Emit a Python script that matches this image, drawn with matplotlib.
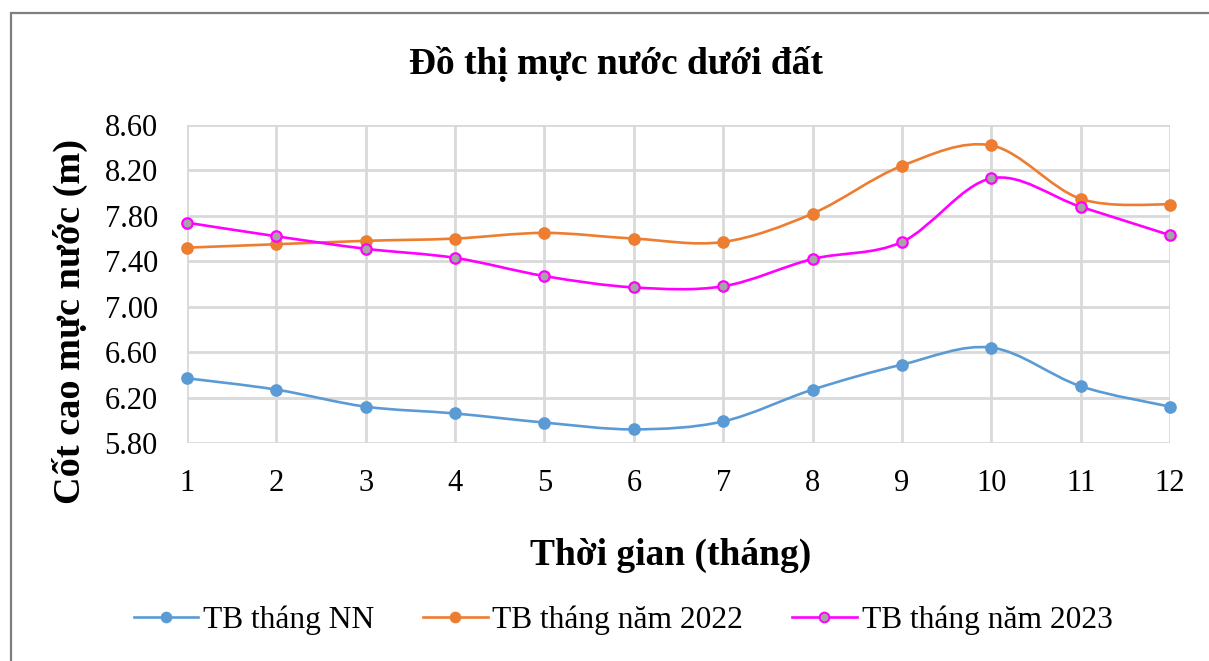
import matplotlib
matplotlib.use("Agg")
import matplotlib.pyplot as plt
from matplotlib.path import Path
from matplotlib.patches import PathPatch, Rectangle
from matplotlib.lines import Line2D
import numpy as np

months = [1, 2, 3, 4, 5, 6, 7, 8, 9, 10, 11, 12]
tb_nn = [6.37, 6.27, 6.12, 6.06, 5.98, 5.92, 5.99, 6.27, 6.49, 6.64, 6.30, 6.12]
tb_2022 = [7.52, 7.55, 7.58, 7.60, 7.65, 7.60, 7.57, 7.82, 8.24, 8.42, 7.95, 7.90]
tb_2023 = [7.74, 7.62, 7.51, 7.43, 7.27, 7.17, 7.18, 7.42, 7.57, 8.13, 7.88, 7.63]
series_names = ["TB tháng NN", "TB tháng năm 2022", "TB tháng năm 2023"]
yticks = [5.80, 6.20, 6.60, 7.00, 7.40, 7.80, 8.20, 8.60]

title = "Đồ thị mực nước dưới đất"
xlabel = "Thời gian (tháng)"
ylabel = "Cốt cao mực nước (m)"

plt.rcParams['font.family'] = ['Liberation Serif', 'DejaVu Serif']

W, H = 1209, 661
fig = plt.figure(figsize=(W / 100, H / 100), dpi=100)

# outer chart border
fig.patches.append(Rectangle((11 / W, -0.1), 1.2, (H - 13) / H + 0.1, transform=fig.transFigure,
                             fill=False, edgecolor='#7f7f7f', linewidth=1.6))

ax = fig.add_axes([187 / W, 1 - 443 / H, (1170 - 187) / W, (443 - 125) / H])
ax.set_xlim(1, 12)
ax.set_ylim(5.8, 8.6)
ax.set_xticks(months)
ax.set_yticks(yticks)
ax.set_yticklabels([f"{v:.2f}" for v in yticks])
ax.grid(True, color='#d9d9d9', linewidth=2)
ax.set_axisbelow(True)
for s in ax.spines.values():
    s.set_visible(False)
ax.tick_params(length=0, labelsize=22, colors='black')
ax.tick_params(axis='x', pad=19)
ax.tick_params(axis='y', pad=21)


def smooth_path(x, y):
    x = np.asarray(x, float)
    y = np.asarray(y, float)
    n = len(x)
    verts = [(x[0], y[0])]
    codes = [Path.MOVETO]
    for i in range(n - 1):
        p0 = np.array([x[max(i - 1, 0)], y[max(i - 1, 0)]])
        p1 = np.array([x[i], y[i]])
        p2 = np.array([x[i + 1], y[i + 1]])
        p3 = np.array([x[min(i + 2, n - 1)], y[min(i + 2, n - 1)]])
        c1 = p1 + (p2 - p0) / 6
        c2 = p2 - (p3 - p1) / 6
        verts += [tuple(c1), tuple(c2), tuple(p2)]
        codes += [Path.CURVE4] * 3
    return Path(verts, codes)


styles = [
    (tb_nn, '#5B9BD5', '#5B9BD5'),
    (tb_2022, '#ED7D31', '#ED7D31'),
    (tb_2023, '#FF00FF', '#A5A5A5'),
]
handles = []
for (vals, col, face), name in zip(styles, series_names):
    ax.add_patch(PathPatch(smooth_path(months, vals), facecolor='none', edgecolor=col,
                           linewidth=1.9, clip_on=False, zorder=3))
    ax.plot(months, vals, linestyle='none', marker='o', markersize=7.5,
            markerfacecolor=face, markeredgecolor=col, markeredgewidth=1.6,
            clip_on=False, zorder=4)
    handles.append(Line2D([], [], color=col, linewidth=1.9, marker='o', markersize=7,
                          markerfacecolor=face, markeredgecolor=col, markeredgewidth=1.4))

fig.text(616 / W, 1 - 64 / H, title, ha='center', va='center', fontsize=27, fontweight='bold')
fig.text(671 / W, 1 - 555 / H, xlabel, ha='center', va='center', fontsize=27, fontweight='bold')
fig.text(70 / W, 1 - 321 / H, ylabel, ha='center', va='center', rotation=90, fontsize=27.5,
         fontweight='bold')

fig.legend(handles, series_names, loc='center', bbox_to_anchor=(623 / W, 1 - 620 / H),
           ncol=3, frameon=False, fontsize=22.7, handlelength=2.05, handletextpad=0.15,
           columnspacing=1.55)

fig.savefig('out.png', dpi=100)
